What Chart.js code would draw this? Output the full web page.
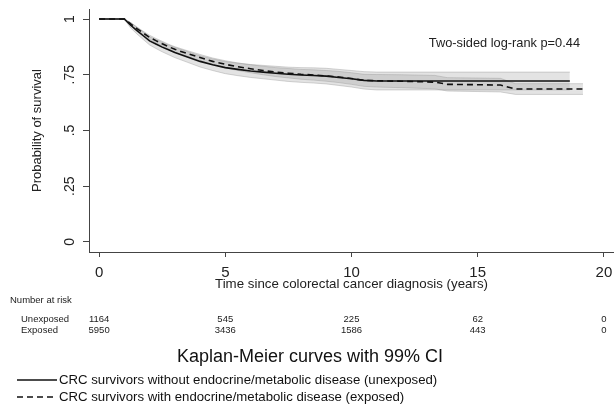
<!DOCTYPE html>
<html>
<head>
<meta charset="utf-8">
<script src="https://cdn.jsdelivr.net/npm/chart.js@4.4.1/dist/chart.umd.min.js"></script>
<style>
  html, body { margin: 0; padding: 0; background: #fff; }
  #wrap { width: 614px; height: 409px; }
</style>
</head>
<body>
<div id="wrap"><canvas id="km"></canvas></div>
<script>
// axis ticks
const xTicks = [0, 5, 10, 15, 20];
const yTicks = [0, 0.25, 0.5, 0.75, 1];
const yTickLabels = ['0', '.25', '.5', '.75', '1'];

// KM curve, unexposed (solid)
const unexpTime = [0, 1.0, 1.25, 1.5, 1.75, 2.0, 2.25, 2.5, 2.75, 3.0, 3.5, 4.0, 4.5, 5.0, 5.5, 6.0, 6.5, 7.0, 7.5, 8.0, 8.5, 9.0, 9.5, 10.0, 10.5, 11.0, 18.65];
const unexpSurv = [1, 1, 0.972, 0.948, 0.925, 0.902, 0.888, 0.874, 0.862, 0.85, 0.83, 0.81, 0.795, 0.782, 0.774, 0.767, 0.762, 0.757, 0.752, 0.749, 0.747, 0.744, 0.738, 0.732, 0.725, 0.722, 0.722];
const unexpLow  = [1, 1, 0.96, 0.933, 0.908, 0.884, 0.868, 0.853, 0.84, 0.827, 0.806, 0.785, 0.769, 0.755, 0.746, 0.738, 0.732, 0.726, 0.72, 0.716, 0.713, 0.709, 0.702, 0.695, 0.686, 0.682, 0.682];
const unexpHigh = [1, 1, 0.984, 0.963, 0.942, 0.92, 0.908, 0.895, 0.884, 0.873, 0.854, 0.835, 0.821, 0.809, 0.802, 0.796, 0.792, 0.788, 0.784, 0.782, 0.781, 0.779, 0.774, 0.769, 0.764, 0.762, 0.762];

// KM curve, exposed (dashed)
const expTime = [0, 1.0, 1.25, 1.5, 1.75, 2.0, 2.25, 2.5, 2.75, 3.0, 3.5, 4.0, 4.5, 5.0, 5.5, 6.0, 6.5, 7.0, 7.5, 8.0, 8.5, 9.0, 9.5, 10.0, 10.5, 11.0, 12.0, 13.3, 13.8, 15.9, 16.5, 19.17];
const expSurv = [1, 1, 0.978, 0.957, 0.937, 0.918, 0.903, 0.889, 0.876, 0.864, 0.845, 0.827, 0.81, 0.797, 0.786, 0.777, 0.769, 0.762, 0.757, 0.752, 0.749, 0.745, 0.74, 0.733, 0.725, 0.723, 0.721, 0.717, 0.707, 0.704, 0.686, 0.686];
const expLow  = [1, 1, 0.972, 0.95, 0.929, 0.909, 0.893, 0.878, 0.865, 0.852, 0.832, 0.813, 0.795, 0.781, 0.769, 0.759, 0.75, 0.742, 0.736, 0.73, 0.726, 0.721, 0.715, 0.707, 0.698, 0.695, 0.692, 0.687, 0.677, 0.673, 0.662, 0.662];
const expHigh = [1, 1, 0.984, 0.964, 0.945, 0.927, 0.913, 0.9, 0.887, 0.876, 0.858, 0.841, 0.825, 0.813, 0.803, 0.795, 0.788, 0.782, 0.778, 0.774, 0.772, 0.769, 0.765, 0.759, 0.752, 0.751, 0.75, 0.747, 0.737, 0.734, 0.71, 0.71];

// number at risk table
const riskTimes = [0, 5, 10, 15, 20];
const riskRows = ['Unexposed', 'Exposed'];
const riskUnexposed = [1164, 545, 225, 62, 0];
const riskExposed = [5950, 3436, 1586, 443, 0];

const seriesLabels = [
  'CRC survivors without endocrine/metabolic disease (unexposed)',
  'CRC survivors with endocrine/metabolic disease (exposed)'
];
const pValueText = 'Two-sided log-rank p=0.44';
const chartTitle = 'Kaplan-Meier curves with 99% CI';

const FONT = '"Liberation Sans", Arial, Helvetica, sans-serif';
const toXY = (xs, ys) => xs.map((x, i) => ({ x: x, y: ys[i] }));

const bandFill = 'rgba(150,150,150,0.27)';
const bandEdge = 'rgba(150,150,150,0.4)';

function lineDs(label, xs, ys, dash) {
  return {
    label: label, data: toXY(xs, ys),
    borderColor: '#111', borderWidth: 1.6, borderDash: dash,
    pointRadius: 0, fill: false, tension: 0
  };
}
function bandDs(xs, ys, fill) {
  return {
    label: '', data: toXY(xs, ys),
    borderColor: bandEdge, borderWidth: 1, pointRadius: 0,
    backgroundColor: bandFill, fill: fill, tension: 0
  };
}

const extras = {
  id: 'extras',
  afterDraw(chart) {
    const ctx = chart.ctx;
    const xs = chart.scales.x, ys = chart.scales.y;
    ctx.save();
    ctx.fillStyle = '#222';

    // rotated y tick labels
    ctx.font = '14px ' + FONT;
    ctx.textAlign = 'center';
    ctx.textBaseline = 'middle';
    yTicks.forEach((v, i) => {
      ctx.save();
      ctx.translate(70, ys.getPixelForValue(v));
      ctx.rotate(-Math.PI / 2);
      ctx.fillText(yTickLabels[i], 0, 0);
      ctx.restore();
    });

    // p-value
    ctx.font = '12.8px ' + FONT;
    ctx.textAlign = 'right';
    ctx.fillText(pValueText, 580, 43);

    // number at risk
    ctx.font = '9.5px ' + FONT;
    ctx.textAlign = 'left';
    ctx.fillText('Number at risk', 10, 300);
    ctx.fillText(riskRows[0], 21, 319);
    ctx.fillText(riskRows[1], 21, 330);
    ctx.textAlign = 'center';
    riskTimes.forEach((t, i) => {
      const px = xs.getPixelForValue(t);
      ctx.fillText(String(riskUnexposed[i]), px, 319);
      ctx.fillText(String(riskExposed[i]), px, 330);
    });

    // title
    ctx.font = '18px ' + FONT;
    ctx.fillStyle = '#111';
    ctx.fillText(chartTitle, 310, 357);

    // legend
    ctx.font = '13.2px ' + FONT;
    ctx.textAlign = 'left';
    [0, 1].forEach(i => {
      const ds = chart.data.datasets[i];
      const y = 380 + i * 17;
      ctx.beginPath();
      ctx.strokeStyle = '#111';
      ctx.lineWidth = 1.4;
      ctx.setLineDash(ds.borderDash || []);
      ctx.moveTo(17, y);
      ctx.lineTo(57, y);
      ctx.stroke();
      ctx.setLineDash([]);
      ctx.fillText(ds.label, 59, y);
    });
    ctx.restore();
  }
};

new Chart(document.getElementById('km'), {
  type: 'line',
  data: {
    datasets: [
      lineDs(seriesLabels[0], unexpTime, unexpSurv, []),
      lineDs(seriesLabels[1], expTime, expSurv, [6, 4]),
      bandDs(unexpTime, unexpLow, false),
      bandDs(unexpTime, unexpHigh, '-1'),
      bandDs(expTime, expLow, false),
      bandDs(expTime, expHigh, '-1')
    ]
  },
  options: {
    responsive: true,
    maintainAspectRatio: false,
    animation: false,
    layout: { padding: { top: 9, right: 0, bottom: 117, left: 0 } },
    plugins: { legend: { display: false }, tooltip: { enabled: false } },
    scales: {
      x: {
        type: 'linear', min: -0.4, max: 20.4,
        afterBuildTicks: s => { s.ticks = xTicks.map(v => ({ value: v })); },
        afterFit: s => { s.height = 40; s.paddingLeft = 0; s.paddingRight = 0; },
        ticks: { font: { size: 15, family: FONT }, color: '#222', padding: 7, maxRotation: 0, autoSkip: false },
        grid: { drawOnChartArea: false, tickLength: 5, color: '#444' },
        border: { color: '#444', width: 1 },
        title: {
          display: true, text: 'Time since colorectal cancer diagnosis (years)',
          font: { size: 13.3, family: FONT }, color: '#222', padding: { top: 0, bottom: 0 }
        }
      },
      y: {
        type: 'linear', min: -0.045, max: 1.045,
        afterBuildTicks: s => { s.ticks = yTicks.map(v => ({ value: v })); },
        afterFit: s => { s.width = 89; s.paddingTop = 0; s.paddingBottom = 0; },
        ticks: { display: false },
        grid: { drawOnChartArea: false, tickLength: 6, color: '#444' },
        border: { color: '#444', width: 1 },
        title: {
          display: true, text: 'Probability of survival',
          font: { size: 13, family: FONT }, color: '#222', padding: { top: 30, bottom: 0 }
        }
      }
    }
  },
  plugins: [extras]
});
</script>
</body>
</html>
